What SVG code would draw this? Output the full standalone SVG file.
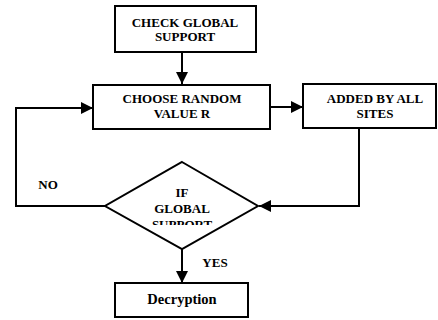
<svg xmlns="http://www.w3.org/2000/svg" width="438" height="320" viewBox="0 0 438 320">
<style>
.box{fill:#fff;stroke:#000;stroke-width:2}
.t{font-family:"Liberation Serif","Times New Roman",serif;font-weight:bold;font-size:13px;fill:#000;text-anchor:middle}
.big{font-size:14.5px}
.l{fill:none;stroke:#000;stroke-width:2}
</style>
<defs>
<marker id="ah" markerWidth="12" markerHeight="12" refX="12" refY="6" orient="auto" markerUnits="userSpaceOnUse">
<path d="M0,0 L12,6 L0,12 Z" fill="#000"/>
</marker>
<clipPath id="dc"><rect x="100" y="150" width="170" height="75"/></clipPath>
</defs>
<g id="connectors">
<path class="l" d="M182,52 V84" marker-end="url(#ah)"/>
<path class="l" d="M270,107 H303" marker-end="url(#ah)"/>
<path class="l" d="M359,128 V206 H259" marker-end="url(#ah)"/>
<path class="l" d="M105,206 H16 V108 H93" marker-end="url(#ah)"/>
<path class="l" d="M182,249 V283" marker-end="url(#ah)"/>
</g>
<g id="check">
<rect class="box" x="115" y="6" width="141" height="46"/>
<text class="t" x="185" y="27">CHECK GLOBAL</text>
<text class="t" x="185" y="41">SUPPORT</text>
</g>
<g id="choose">
<rect class="box" x="93" y="85" width="177" height="44"/>
<text class="t" x="182" y="103">CHOOSE RANDOM</text>
<text class="t" x="182" y="118">VALUE R</text>
</g>
<g id="added">
<rect class="box" x="303" y="84" width="133" height="44"/>
<text class="t" x="375" y="103">ADDED BY ALL</text>
<text class="t" x="375" y="118">SITES</text>
</g>
<g id="decision">
<polygon class="box" points="182,162 258,206 182,249 105,206"/>
<g clip-path="url(#dc)">
<text class="t" x="182" y="197">IF</text>
<text class="t" x="182" y="213">GLOBAL</text>
<text class="t" x="182" y="229">SUPPORT</text>
</g>
</g>
<g id="labels">
<text class="t" x="48" y="189">NO</text>
<text class="t" x="215" y="267">YES</text>
</g>
<g id="decryption">
<rect class="box" x="115" y="283" width="133" height="34"/>
<text class="t big" x="182" y="304">Decryption</text>
</g>
</svg>
